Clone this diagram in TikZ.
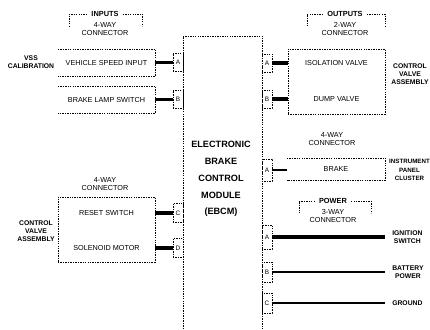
\documentclass[tikz,border=0pt]{standalone}
\usepackage{fontspec}
\setmainfont{Liberation Sans}
\usetikzlibrary{positioning, calc}

\newcommand{\boxfont}{\fontsize{6.2}{6.8}\selectfont}
\newcommand{\lblfont}{\fontsize{5.8}{7}\selectfont\bfseries}
\newcommand{\hdrfont}{\fontsize{6.3}{7}\selectfont\bfseries}
\newcommand{\pinfont}{\fontsize{5.5}{5.5}\selectfont}

\begin{document}
\begin{tikzpicture}[x=0.03cm, y=-0.03cm,
  dashln/.style={line width=0.35pt, dash pattern=on 1.2pt off 0.9pt},
  boxtxt/.style={font=\boxfont, inner sep=0pt},
  conntxt/.style={font=\boxfont, align=center, inner sep=0pt},
  lbl/.style={font=\lblfont, align=center, inner sep=0pt},
  pinbox/.style={draw, dashln, minimum width=0.3cm, minimum height=#1, inner sep=0pt, font=\pinfont},
  pinbox/.default=0.54cm,
  wire/.style={line width=#1, line cap=butt},
]
  % page frame, in pixels of the original sheet (y runs down)
  \useasboundingbox (0,0) rectangle (430,329);

  \def\bw{2.91cm} % width of the unit boxes

  % --- EBCM ---
  \node[font=\fontsize{7.8}{14.4}\selectfont\bfseries, align=center] (ebcm) at (221,179)
    {ELECTRONIC\\BRAKE\\CONTROL\\MODULE\\(EBCM)};
  \draw[dashln] (183,329) -- (183,36) -- (262,36) -- (262,329);

  % --- pins, left side ---
  \node[pinbox] (pinA) at (178,62.5) {A};
  \node[pinbox] (pinB) at (178,99.5) {B};
  \node[pinbox=0.57cm] (pinC) at (178,213) {C};
  \node[pinbox=0.57cm] (pinD) at (178,248) {D};

  % --- pins, right side ---
  \node[pinbox] (pinOA) at (267,63) {A};
  \node[pinbox] (pinOB) at (267,99) {B};
  \node[pinbox=0.66cm] (pinL) at (267,170) {A};
  \node[pinbox=0.72cm] (pinP1) at (267,237) {A};
  \node[pinbox=0.6cm] (pinP2) at (267,272) {B};
  \node[pinbox=0.6cm] (pinP3) at (267,303) {C};

  % --- inputs ---
  \node[font=\hdrfont] (inhdr) at (105,14) {INPUTS};
  \draw[dashln] (inhdr.west) -- ++(-18,0) -- ++(0,12);
  \draw[dashln] (inhdr.east) -- ++(20,0) -- ++(0,12);
  \node[conntxt, below=1.5pt of inhdr] (inconn) {4-WAY\\CONNECTOR};

  \node[boxtxt, minimum width=\bw, minimum height=0.81cm] (vss) at (106.5,62.5) {VEHICLE SPEED INPUT};
  \draw[dashln] (vss.north west) -- (vss.north east) -- (vss.south east) -- (vss.south west);
  \node[boxtxt, minimum width=\bw, minimum height=0.81cm] (bls) at (106.5,99.5) {BRAKE LAMP SWITCH};
  \draw[dashln] (bls.north west) -- (bls.north east) -- (bls.south east) -- (bls.south west);
  \draw[wire=2.6pt] (vss.east) -- (pinA.west);
  \draw[wire=2.6pt] (bls.east) -- (pinB.west);
  \node[lbl] (vsscal) at (31,62) {VSS\\CALIBRATION};

  % --- lower left, control valve ---
  \node[conntxt] (llconn) at (105,184) {4-WAY\\CONNECTOR};
  \node[draw, dashln, minimum width=\bw, minimum height=1.95cm] (cvbox) at (106.5,229.5) {};
  \node[boxtxt] (reset) at (106.5,213) {RESET SWITCH};
  \node[boxtxt] (solmot) at (106.5,248) {SOLENOID MOTOR};
  \draw[wire=2.6pt] (pinC.west) -- (pinC.west -| cvbox.east);
  \draw[wire=2.6pt] (pinD.west) -- (pinD.west -| cvbox.east);
  \node[lbl] (cvlbl) at (36,231) {CONTROL\\VALVE\\ASSEMBLY};

  % --- outputs ---
  \node[font=\hdrfont] (outhdr) at (345,14) {OUTPUTS};
  \draw[dashln] (outhdr.west) -- ++(-16,0) -- ++(0,12);
  \draw[dashln] (outhdr.east) -- ++(18,0) -- ++(0,12);
  \node[conntxt, below=1.5pt of outhdr] (outconn) {2-WAY\\CONNECTOR};

  \node[draw, dashln, minimum width=\bw, minimum height=1.95cm] (outbox) at (336.5,81.5) {};
  \node[boxtxt] (iso) at (336.5,63) {ISOLATION VALVE};
  \node[boxtxt] (dump) at (336.5,99) {DUMP VALVE};
  \draw[wire=2.6pt] (pinOA.east) -- (pinOA.east -| outbox.west);
  \draw[wire=2.6pt] (pinOB.east) -- (pinOB.east -| outbox.west);
  \node[lbl] (cvlbl2) at (410,74) {CONTROL\\VALVE\\ASSEMBLY};

  % --- instrument panel ---
  \node[conntxt] (ipconn) at (332,139) {4-WAY\\CONNECTOR};
  \node[boxtxt, minimum width=2.94cm, minimum height=0.66cm] (lamp) at (336,169) {BRAKE};
  \draw[dashln] (lamp.north west) -- (lamp.north east) -- (lamp.south east) -- (lamp.south west);
  \draw[wire=2.2pt] (pinL.east) -- (pinL.east -| lamp.west);
  \node[lbl, font=\fontsize{5.3}{7}\selectfont\bfseries] (ipc) at (409.5,170) {INSTRUMENT\\PANEL\\CLUSTER};

  % --- power ---
  \node[font=\hdrfont] (pwrhdr) at (333,201) {POWER};
  \draw[dashln] (pwrhdr.west) -- ++(-16,0) -- ++(0,12);
  \draw[dashln] (pwrhdr.east) -- ++(20,0) -- ++(0,12);
  \node[conntxt, below=1.5pt of pwrhdr] (pwrconn) {3-WAY\\CONNECTOR};

  \coordinate (ign) at (385,237);
  \coordinate (bat) at (385,272);
  \coordinate (gnd) at (385,303);
  \draw[wire=3.4pt] (pinP1.east) -- (ign);
  \draw[wire=2.2pt] (pinP2.east) -- (bat);
  \draw[wire=1.8pt] (pinP3.east) -- (gnd);
  \node[lbl, right=6pt of ign] (ignlbl) {IGNITION\\SWITCH};
  \node[lbl, right=6pt of bat] (batlbl) {BATTERY\\POWER};
  \node[lbl, right=6pt of gnd] (gndlbl) {GROUND};
\end{tikzpicture}
\end{document}
